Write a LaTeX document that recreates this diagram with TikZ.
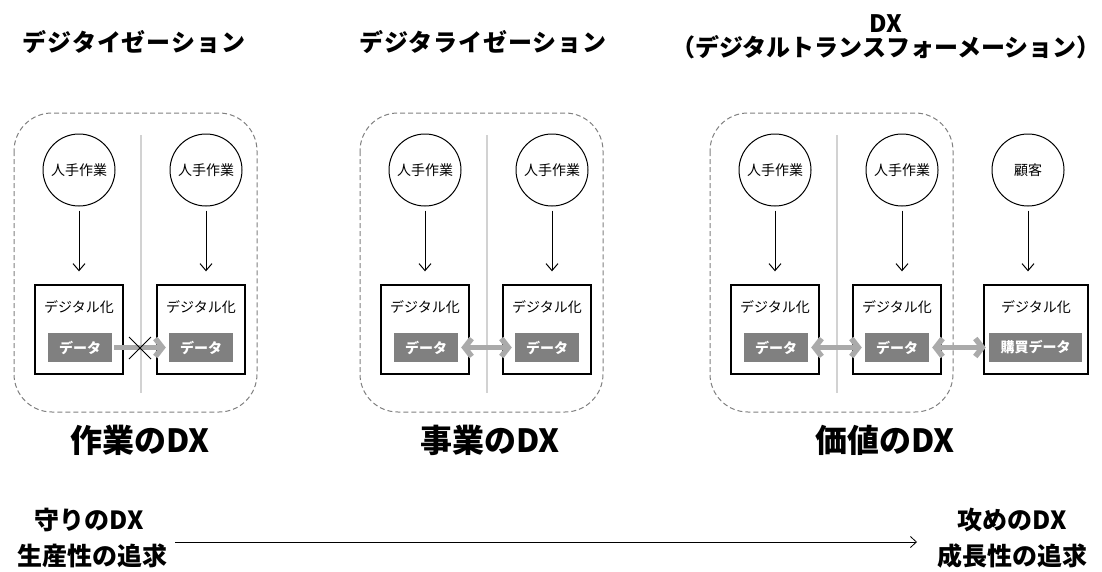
\documentclass[tikz,border=0pt]{standalone}
\usepackage{fontspec}
\setmainfont{Noto Sans CJK JP}
\usetikzlibrary{arrows.meta}
\definecolor{dashgray}{RGB}{128,128,128}
\definecolor{sepgray}{RGB}{210,210,210}
\definecolor{datagray}{RGB}{128,128,128}
\definecolor{arrgray}{RGB}{170,170,170}
\tikzset{
  panel/.style={draw=dashgray, dash pattern=on 5pt off 3pt, rounded corners=38pt, line width=1pt},
  sepline/.style={draw=sepgray, line width=1.5pt},
  circ/.style={circle, draw, line width=1pt, minimum size=72pt, inner sep=0pt, font=\fontsize{14}{16}\selectfont},
  dbox/.style={draw, line width=1.3pt, minimum width=88pt, minimum height=89pt, inner sep=0pt},
  wbox/.style={dbox, minimum width=104pt},
  lbl/.style={font=\fontsize{14}{16}\selectfont, inner sep=0pt},
  data/.style={fill=datagray, text=white, font=\bfseries\fontsize{14}{16}\selectfont, minimum width=64pt, minimum height=29pt, inner sep=0pt},
  wdata/.style={data, minimum width=93pt},
  flow/.style={-{Straight Barb[length=7pt,width=12pt]}, line width=1pt},
  garrow/.style={draw=arrgray, line width=5.5pt, -{Straight Barb[length=7pt,width=18pt]}},
  gdarrow/.style={draw=arrgray, line width=5.5pt, {Straight Barb[length=7pt,width=18pt]}-{Straight Barb[length=7pt,width=18pt]}},
  head/.style={font=\bfseries\fontsize{24}{28}\selectfont\addfontfeatures{LetterSpace=4}, inner sep=0pt},
  headb/.style={font=\bfseries\fontsize{24}{28}\selectfont, inner sep=0pt},
  big/.style={font=\bfseries\fontsize{32}{36}\selectfont, inner sep=0pt},
  foot/.style={font=\bfseries\fontsize{25}{29}\selectfont, inner sep=0pt},
}
\begin{document}
\begin{tikzpicture}[x=1pt,y=-1pt]
\useasboundingbox (0,0) rectangle (1102,571);
% headings
\node[head] (h1) at (134,42) {デジタイゼーション};
\node[head] (h2) at (483,42) {デジタライゼーション};
\node[headb] (h3a) at (886,24) {DX};
\node[headb] (h3b) at (886,47) {（デジタルトランスフォーメーション）};
% panels
\draw[panel] (14,113) rectangle (257,412);
\draw[panel] (360,113) rectangle (603,412);
\draw[panel] (710,113) rectangle (953,412);
\draw[sepline] (141,135) -- (141,393);
\draw[sepline] (487,135) -- (487,393);
\draw[sepline] (837,135) -- (837,393);
% panel 1
\node[circ] (c11) at (79,170) {人手作業};
\node[circ] (c12) at (206,170) {人手作業};
\node[dbox] (b11) at (79,329.5) {};
\node[dbox] (b12) at (201,329.5) {};
\node[lbl] (l11) at (79,307) {デジタル化};
\node[lbl] (l12) at (201,307) {デジタル化};
\node[data] (d11) at (80,347.5) {データ};
\node[data] (d12) at (201,347.5) {データ};
% panel 2
\node[circ] (c21) at (425,170) {人手作業};
\node[circ] (c22) at (552,170) {人手作業};
\node[dbox] (b21) at (425,329.5) {};
\node[dbox] (b22) at (547,329.5) {};
\node[lbl] (l21) at (425,307) {デジタル化};
\node[lbl] (l22) at (547,307) {デジタル化};
\node[data] (d21) at (426,347.5) {データ};
\node[data] (d22) at (547,347.5) {データ};
% panel 3
\node[circ] (c31) at (775,170) {人手作業};
\node[circ] (c32) at (902,170) {人手作業};
\node[circ] (c33) at (1028,170) {顧客};
\node[dbox] (b31) at (775,329.5) {};
\node[dbox] (b32) at (897,329.5) {};
\node[wbox] (b33) at (1036,329.5) {};
\node[lbl] (l31) at (775,307) {デジタル化};
\node[lbl] (l32) at (897,307) {デジタル化};
\node[lbl] (l33) at (1036,307) {デジタル化};
\node[data] (d31) at (776,347.5) {データ};
\node[data] (d32) at (897,347.5) {データ};
\node[wdata] (d33) at (1035.5,347.5) {購買データ};
% flow arrows
\foreach \c/\b in {c11/b11,c12/b12,c21/b21,c22/b22,c31/b31,c32/b32,c33/b33}{
  \draw[flow, shorten <=4pt, shorten >=13pt] (\c.south) -- (\c.south |- \b.north);
}
% data arrows
\draw[garrow, shorten <=2pt, shorten >=3pt] (d11.east) -- (d12.west);
\coordinate (xc) at (140,348);
\draw[line width=1pt] ([shift={(-11,-11)}]xc) -- ([shift={(11,11)}]xc);
\draw[line width=1pt] ([shift={(-11,11)}]xc) -- ([shift={(11,-11)}]xc);
\draw[gdarrow, shorten <=3pt, shorten >=3pt] (d21.east) -- (d22.west);
\draw[gdarrow, shorten <=3pt, shorten >=3pt] (d31.east) -- (d32.west);
\draw[gdarrow, shorten <=3pt, shorten >=3pt] (d32.east) -- (d33.west);
% big labels
\node[big] (t1) at (140,440) {作業のDX};
\node[big] (t2) at (490,440) {事業のDX};
\node[big] (t3) at (885,440) {価値のDX};
% bottom
\node[foot] (f1) at (89,520) {守りのDX};
\node[foot] (f2) at (92,556) {生産性の追求};
\node[foot] (f3) at (1012,520) {攻めのDX};
\node[foot] (f4) at (1012,556) {成長性の追求};
\coordinate (as) at (175,542);
\coordinate (ae) at (917,542);
\draw[line width=0.8pt, -{Straight Barb[length=6pt,width=11pt]}] (as) -- (ae);
\end{tikzpicture}
\end{document}
